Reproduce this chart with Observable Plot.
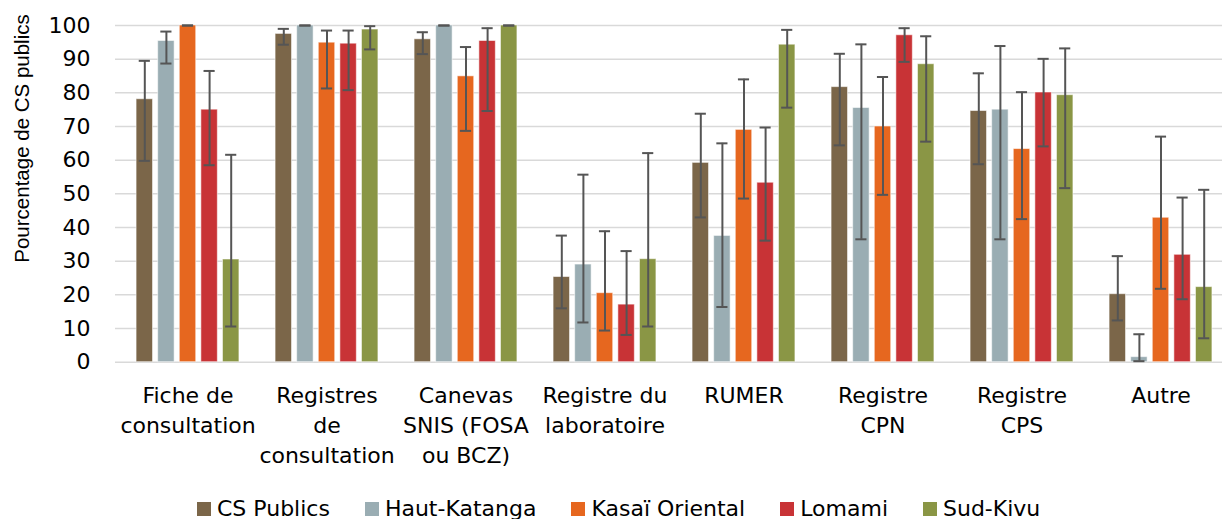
<!DOCTYPE html>
<html>
<head>
<meta charset="utf-8">
<script src="https://cdn.jsdelivr.net/npm/d3@7"></script>
<script src="https://cdn.jsdelivr.net/npm/@observablehq/plot@0.6"></script>
<style>
  html, body { margin: 0; padding: 0; background: #fff; overflow: hidden; }
  #chart svg { display: block; }
  #legend { margin-top: 16px; margin-left: 197px; font-family: "DejaVu Sans", sans-serif; font-size: 22px; line-height: 26px; white-space: nowrap; color: #000; }
  #legend .item { display: inline-block; margin-right: 35px; }
  #legend .sw { display: inline-block; width: 14px; height: 14px; margin-right: 6px; vertical-align: baseline; }
</style>
</head>
<body>
<div id="chart"></div>
<div id="legend"></div>
<script>
const categories = ["Fiche de\nconsultation", "Registres\nde\nconsultation", "Canevas\nSNIS (FOSA\nou BCZ)", "Registre du\nlaboratoire", "RUMER", "Registre\nCPN", "Registre\nCPS", "Autre"];
const seriesNames = ["CS Publics", "Haut-Katanga", "Kasaï Oriental", "Lomami", "Sud-Kivu"];
const seriesColors = ["#7B6649", "#9AADB3", "#E6671F", "#C83336", "#8A9645"];
const yTicks = [0, 10, 20, 30, 40, 50, 60, 70, 80, 90, 100];
const yLabel = "Pourcentage de CS publics";

const csPublics     = [78.1, 97.5, 95.9, 25.3, 59.2, 81.7, 74.6, 20.2];
const csPublicsLow  = [59.8, 94.3, 91.5, 16.0, 43.0, 64.4, 58.8, 12.4];
const csPublicsHigh = [89.5, 99.0, 98.0, 37.6, 73.8, 91.6, 85.8, 31.5];

const hautKatanga     = [95.4, 100, 100, 29.0, 37.5, 75.5, 75.0, 1.5];
const hautKatangaLow  = [88.7, 100, 100, 11.8, 16.4, 36.5, 36.5, 0.3];
const hautKatangaHigh = [98.2, 100, 100, 55.7, 65.0, 94.4, 93.9, 8.3];

const kasaiOriental     = [100, 94.9, 84.9, 20.5, 69.0, 70.0, 63.3, 42.9];
const kasaiOrientalLow  = [100, 81.3, 68.7, 9.4, 48.6, 49.7, 42.5, 21.8];
const kasaiOrientalHigh = [100, 98.5, 93.6, 38.9, 84.0, 84.7, 80.2, 67.0];

const lomami     = [75.0, 94.6, 95.4, 17.1, 53.3, 97.1, 80.1, 31.9];
const lomamiLow  = [58.5, 80.8, 74.6, 8.1, 36.1, 89.2, 64.1, 18.7];
const lomamiHigh = [86.5, 98.5, 99.2, 33.0, 69.7, 99.2, 90.1, 48.9];

const sudKivu     = [30.5, 98.8, 100, 30.6, 94.3, 88.5, 79.3, 22.3];
const sudKivuLow  = [10.6, 92.9, 100, 10.6, 75.6, 65.5, 51.7, 7.1];
const sudKivuHigh = [61.6, 99.8, 100, 62.1, 98.7, 96.8, 93.2, 51.2];

const seriesValues = [csPublics, hautKatanga, kasaiOriental, lomami, sudKivu];
const seriesLow = [csPublicsLow, hautKatangaLow, kasaiOrientalLow, lomamiLow, sudKivuLow];
const seriesHigh = [csPublicsHigh, hautKatangaHigh, kasaiOrientalHigh, lomamiHigh, sudKivuHigh];

const W = 1222, H = 480;
const left = 115.07, right = 1233.9;
const band = (right - left) / categories.length;
const step = 21.6, barW = 17.3, capW = 12;

const marks = [
  Plot.ruleY(yTicks, {y: d => d, stroke: "#d9d9d9", strokeWidth: 1.5}),
  Plot.axisY({ticks: yTicks, tickSize: 0, tickPadding: 25, fontSize: 22, fontFamily: "DejaVu Sans", label: null, fill: "#000"}),
  Plot.axisX({tickSize: 0, tickPadding: 20, fontSize: 22, fontFamily: "DejaVu Sans", lineHeight: 30 / 22, label: null, fill: "#000"})
];

seriesNames.forEach((name, i) => {
  const rows = categories.map((c, j) => ({cat: c, value: seriesValues[i][j], lo: seriesLow[i][j], hi: seriesHigh[i][j]}));
  const dx = (i - 2) * step;
  marks.push(Plot.barY(rows, {x: "cat", y: "value", fill: seriesColors[i], stroke: "#ffffff", strokeOpacity: 0.55, strokeWidth: 1, dx, insetLeft: (band - barW) / 2, insetRight: (band - barW) / 2}));
});
seriesNames.forEach((name, i) => {
  const rows = categories.map((c, j) => ({cat: c, value: seriesValues[i][j], lo: seriesLow[i][j], hi: seriesHigh[i][j]}));
  const dx = (i - 2) * step;
  marks.push(Plot.ruleX(rows, {x: "cat", y1: "lo", y2: "hi", dx, stroke: "#555555", strokeWidth: 2}));
  marks.push(Plot.tickY(rows, {x: "cat", y: "hi", dx, insetLeft: (band - capW) / 2, insetRight: (band - capW) / 2, stroke: "#555555", strokeWidth: 2}));
  marks.push(Plot.tickY(rows, {x: "cat", y: "lo", dx, insetLeft: (band - capW) / 2, insetRight: (band - capW) / 2, stroke: "#555555", strokeWidth: 2}));
});

marks.push(Plot.text([yLabel], {text: d => d, frameAnchor: "top-left", dx: 22 - 115, dy: 138 - 25, rotate: -90, textAnchor: "middle", lineAnchor: "middle", fontSize: 20.5, fontFamily: "Liberation Sans", fill: "#000"}));

const chart = Plot.plot({
  width: W,
  height: H,
  marginLeft: 115,
  marginRight: 0,
  marginTop: 25,
  marginBottom: H - 361.7,
  style: {background: "#fff", overflow: "visible"},
  x: {type: "band", domain: categories, range: [left, right], padding: 0, axis: null},
  y: {domain: [0, 100], axis: null},
  marks
});
document.getElementById("chart").append(chart);

const legend = document.getElementById("legend");
seriesNames.forEach((name, i) => {
  const item = document.createElement("span");
  item.className = "item";
  const sw = document.createElement("span");
  sw.className = "sw";
  sw.style.background = seriesColors[i];
  item.append(sw, document.createTextNode(name));
  legend.append(item);
});
</script>
</body>
</html>
